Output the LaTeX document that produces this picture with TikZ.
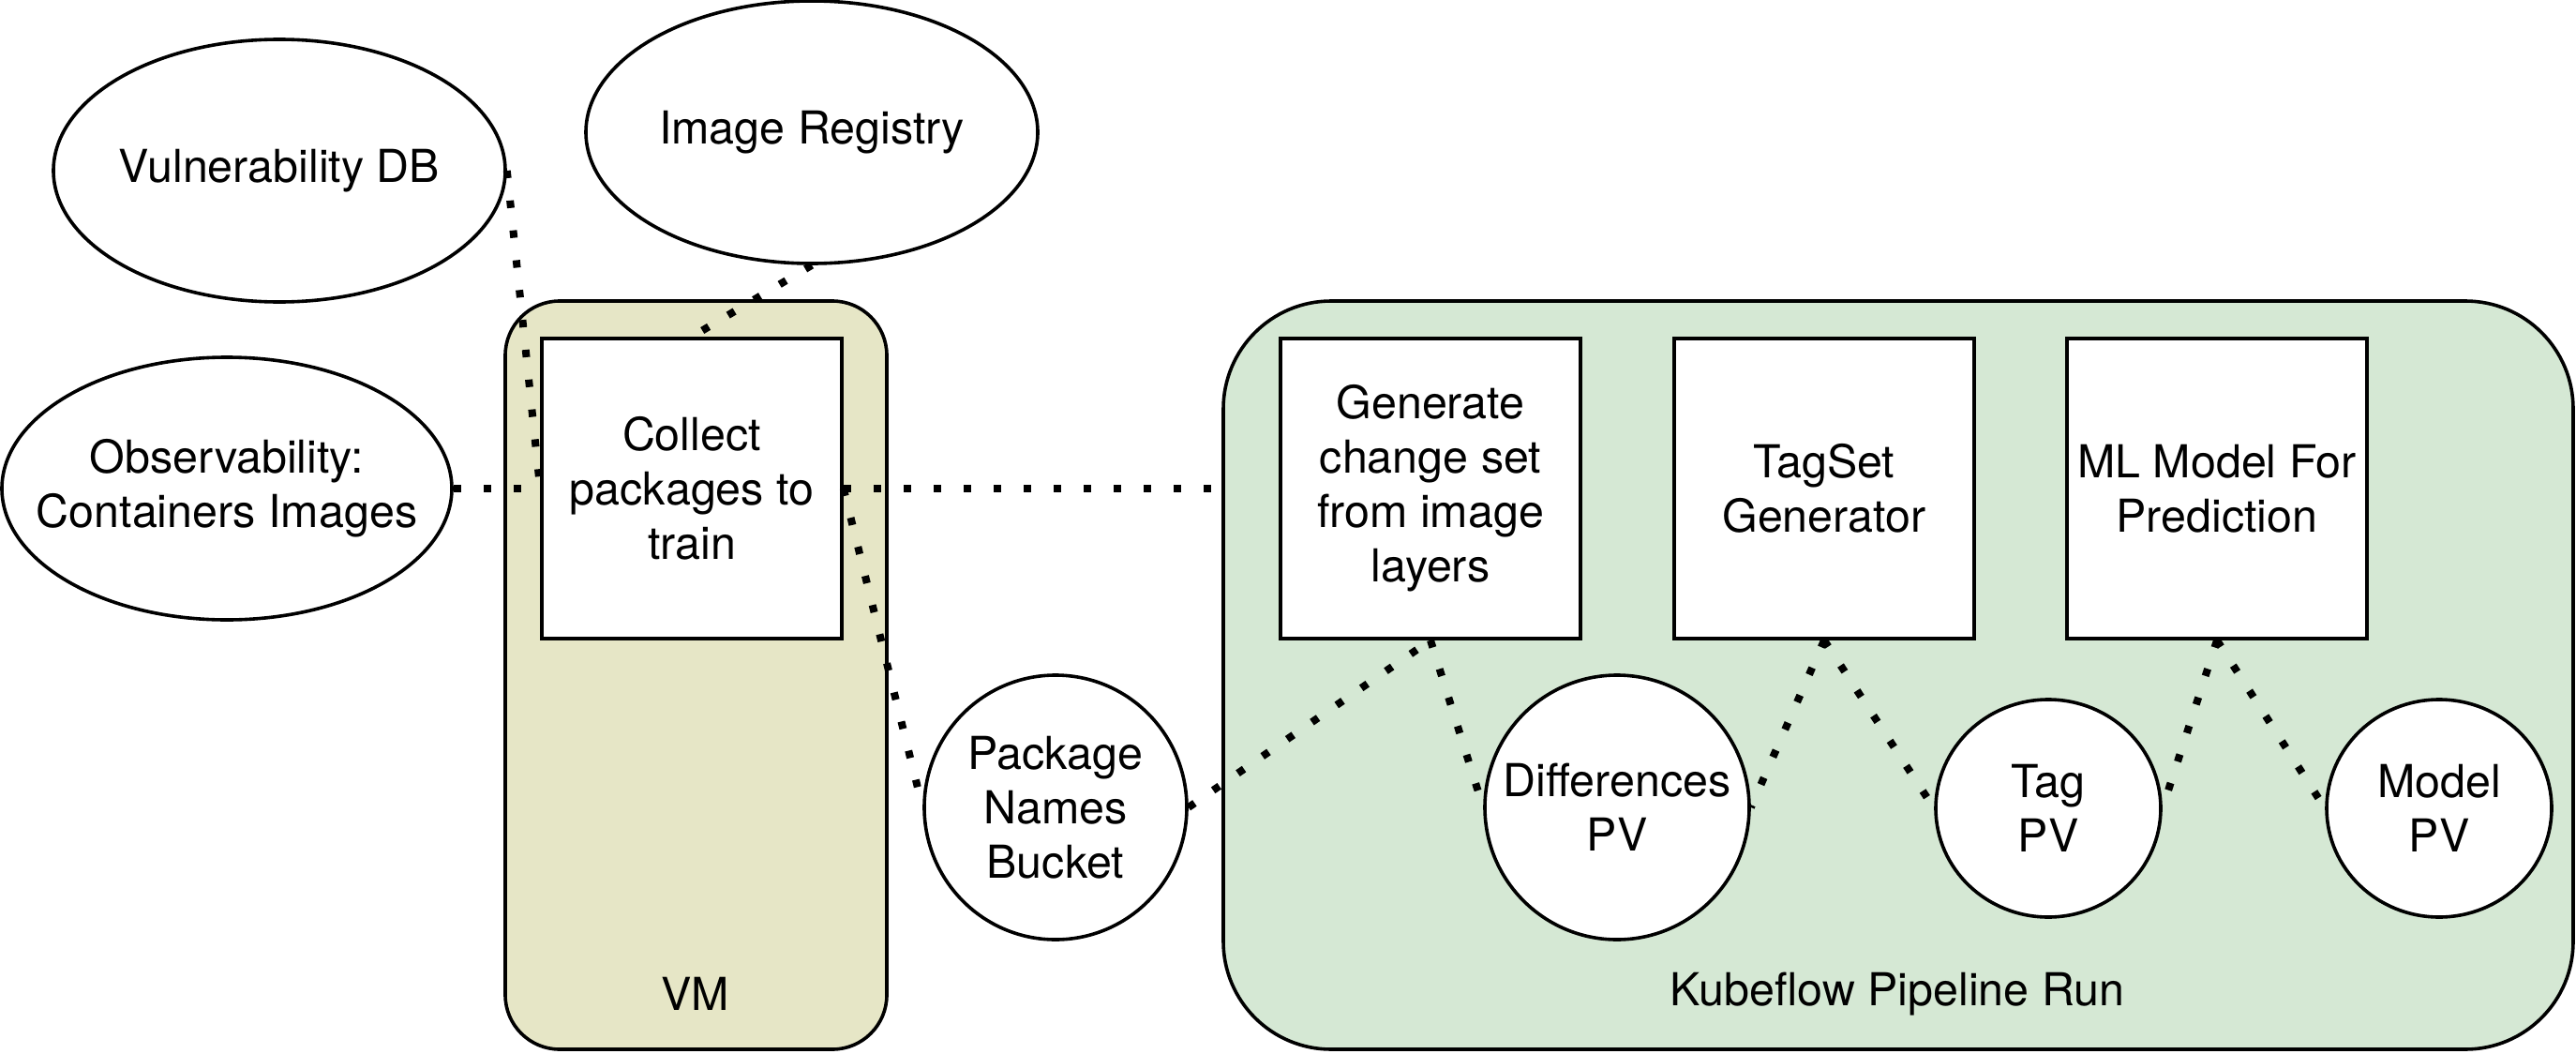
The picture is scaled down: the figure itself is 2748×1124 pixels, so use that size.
\documentclass[tikz,border=0pt]{standalone}
\usepackage{fontspec}
\setmainfont{TeX Gyre Heros}
\usetikzlibrary{shapes.geometric}
\definecolor{vmfill}{HTML}{E6E6C6}
\definecolor{kubefill}{HTML}{D5E8D4}
\begin{document}
\begin{tikzpicture}[x=0.5pt,y=-0.5pt,
  every node/.style={font=\fontsize{24.2}{29}\selectfont, align=center, inner sep=0pt},
  shapeline/.style={draw=black, line width=1.8pt},
  oval/.style={shapeline, ellipse, fill=white, inner sep=-300pt, minimum width=241pt, minimum height=140pt},
  pv/.style={shapeline, ellipse, fill=white, inner sep=-300pt},
  box/.style={shapeline, rectangle, fill=white, minimum width=160pt, minimum height=160pt},
  link/.style={line width=4pt, dash pattern=on 4pt off 12pt},
]
\useasboundingbox (0,0) rectangle (2748,1124);
% containers
\node[shapeline, fill=vmfill, rounded corners=29pt, minimum width=203.5pt, minimum height=399pt] (vm) at (742.5,720) {};
\node[shapeline, fill=kubefill, rounded corners=57.5pt, minimum width=720pt, minimum height=399pt] (kube) at (2025,720) {};
\node (vmlabel) at (742,1060) {VM};
\node (kubelabel) at (2024,1060) {Kubeflow Pipeline Run};
% external ellipses
\node[oval] (vuln) at (298,182) {Vulnerability DB};
\node[oval] (reg) at (866,141) {Image Registry};
\node[oval, minimum width=240pt] (obs) at (242,521) {Observability:\\Containers Images};
% boxes
\node[box] (collect) at (738,521) {Collect\\packages to\\train};
\node[box] (generate) at (1526,521) {Generate\\change set\\from image\\layers};
\node[box] (tagset) at (1946,521) {TagSet\\Generator};
\node[box] (ml) at (2365,521) {ML Model For\\Prediction};
% volumes
\node[pv, minimum width=140pt, minimum height=141pt] (bucket) at (1126,861) {Package\\Names\\Bucket};
\node[pv, minimum width=141pt, minimum height=141pt] (diff) at (1725,861) {Differences\\PV};
\node[pv, minimum width=120pt, minimum height=116pt] (tagpv) at (2185,862) {Tag\\PV};
\node[pv, minimum width=120pt, minimum height=116pt] (modelpv) at (2602,862) {Model\\PV};
% connectors
\draw[link] (vuln.east) -- (collect.west);
\draw[link] (reg.south) -- (collect.north);
\draw[link] (obs.east) -- (collect.west);
\draw[link] (collect.east) -- (collect.east -| kube.west);
\draw[link] (collect.east) -- (bucket.west);
\draw[link] (bucket.east) -- (generate.south);
\draw[link] (generate.south) -- (diff.west);
\draw[link] (tagset.south) -- (diff.east);
\draw[link] (tagset.south) -- (tagpv.west);
\draw[link] (ml.south) -- (tagpv.east);
\draw[link] (ml.south) -- (modelpv.west);
\end{tikzpicture}
\end{document}
